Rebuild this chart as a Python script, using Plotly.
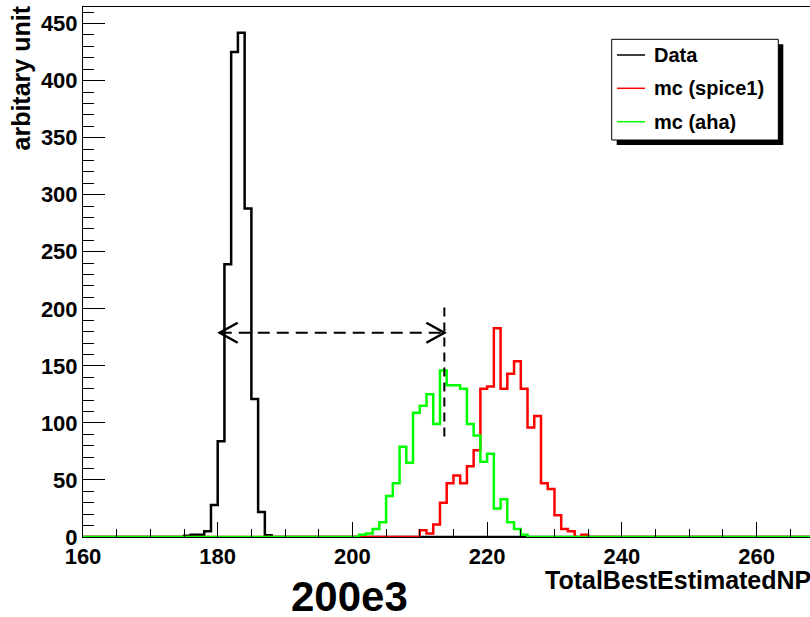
import plotly.graph_objects as go

# ---------------- data (bin width = 1, counts) ----------------
HIST_MIN = 160
HIST_MAX = 270

data_first_bin = 175
data_counts = [1, 2, 2, 5, 28, 84, 239, 425, 442, 288, 121, 22, 1.5]

spice1_first_bin = 210
spice1_counts = [6, 3, 11, 30, 47, 54, 47, 62, 76, 130, 132, 183, 130, 143,
                 154, 130, 96, 106, 47, 42, 19, 7, 5, 0, 2]

aha_first_bin = 201
aha_counts = [2, 3, 7, 13, 36, 47, 79, 65, 109, 115, 125, 99, 146, 133, 133,
              130, 99, 89, 66, 73, 25, 33, 13, 7, 2]

series_names = ["Data", "mc (spice1)", "mc (aha)"]
series_colors = ["#000000", "#ff0000", "#00ff00"]

x_ticks = [160, 180, 200, 220, 240, 260]
y_ticks = [0, 50, 100, 150, 200, 250, 300, 350, 400, 450]
X_RANGE = [160, 267.94]
Y_RANGE = [0, 464.5]

# arrow annotation (data coordinates)
ARROW_Y = 179
ARROW_X_LEFT = 180.3
ARROW_X_RIGHT = 213.65
VLINE_Y0 = 88
VLINE_Y1 = 205

# ---------------- layout geometry ----------------
FIG_W, FIG_H = 810, 617
M_L, M_R, M_T, M_B = 83, 0, 7, 80
PLOT_W = FIG_W - M_L - M_R
PLOT_H = FIG_H - M_T - M_B
PLOT_BOTTOM = FIG_H - M_B

def pxx(px):
    return (px - M_L) / PLOT_W

def pxy(py):
    return (PLOT_BOTTOM - py) / PLOT_H

FONT = "Liberation Sans, Arial, Helvetica, sans-serif"


def full_hist(first_bin, counts):
    nb = HIST_MAX - HIST_MIN
    vals = [0.0] * nb
    for i, c in enumerate(counts):
        vals[first_bin - HIST_MIN + i] = c
    edges = list(range(HIST_MIN, HIST_MAX + 1))
    return edges, vals + [vals[-1]]


fig = go.Figure()
for (fb, cnt), name, col in zip(
        [(data_first_bin, data_counts), (spice1_first_bin, spice1_counts),
         (aha_first_bin, aha_counts)], series_names, series_colors):
    xs, ys = full_hist(fb, cnt)
    fig.add_trace(go.Scatter(x=xs, y=ys, mode="lines", name=name,
                             line=dict(color=col, width=2.5, shape="hv"),
                             showlegend=False, hoverinfo="skip"))

shapes = []
# dashed horizontal line with open arrow heads
shapes.append(dict(type="line", xref="x", yref="y", x0=ARROW_X_LEFT, x1=ARROW_X_RIGHT,
                   y0=ARROW_Y, y1=ARROW_Y,
                   line=dict(color="black", width=2.2, dash="12px,7px")))
shapes.append(dict(type="line", xref="x", yref="y", x0=ARROW_X_RIGHT, x1=ARROW_X_RIGHT,
                   y0=VLINE_Y0, y1=VLINE_Y1,
                   line=dict(color="black", width=2, dash="9px,6px")))
shapes.append(dict(type="path", xref="x", yref="y", xsizemode="pixel", ysizemode="pixel",
                   xanchor=ARROW_X_LEFT, yanchor=ARROW_Y,
                   path="M 18,10 L 0,0 L 18,-10",
                   line=dict(color="black", width=2.5)))
shapes.append(dict(type="path", xref="x", yref="y", xsizemode="pixel", ysizemode="pixel",
                   xanchor=ARROW_X_RIGHT, yanchor=ARROW_Y,
                   path="M -18,10 L 0,0 L -18,-10",
                   line=dict(color="black", width=2.5)))

# legend box with shadow
LEG_L, LEG_T, LEG_R, LEG_B = 611.7, 39.3, 778.3, 140
SH = 5
shapes.append(dict(type="rect", xref="paper", yref="paper",
                   x0=pxx(LEG_L + SH), x1=pxx(LEG_R + SH), y0=pxy(LEG_B + SH), y1=pxy(LEG_T + SH),
                   fillcolor="black", line=dict(width=0)))
shapes.append(dict(type="rect", xref="paper", yref="paper",
                   x0=pxx(LEG_L), x1=pxx(LEG_R), y0=pxy(LEG_B), y1=pxy(LEG_T),
                   fillcolor="white", line=dict(color="black", width=1)))
annotations = []
entry_y = [55, 88.3, 121.7]
for name, col, ey in zip(series_names, series_colors, entry_y):
    shapes.append(dict(type="line", xref="paper", yref="paper",
                       x0=pxx(617), x1=pxx(645), y0=pxy(ey), y1=pxy(ey),
                       line=dict(color=col, width=1.5)))
    annotations.append(dict(xref="paper", yref="paper", x=pxx(652), y=pxy(ey),
                            xanchor="left", yanchor="middle", showarrow=False,
                            text=name, font=dict(family=FONT, size=20, color="black", weight="bold")))

# titles
annotations.append(dict(xref="paper", yref="paper", x=pxx(21), y=pxy(4),
                        xanchor="center", yanchor="top", textangle=-90, showarrow=False,
                        text="arbitary unit",
                        font=dict(family=FONT, size=25, color="black", weight="bold")))
annotations.append(dict(xref="paper", yref="paper", x=pxx(543), y=pxy(580),
                        xanchor="left", yanchor="middle", showarrow=False,
                        text="TotalBestEstimatedNPE",
                        font=dict(family=FONT, size=25, color="black", weight="bold")))
annotations.append(dict(xref="paper", yref="paper", x=pxx(349), y=pxy(596),
                        xanchor="center", yanchor="middle", showarrow=False,
                        text="200e3",
                        font=dict(family=FONT, size=42, color="black", weight="bold")))

fig.update_layout(
    width=FIG_W, height=FIG_H,
    margin=dict(l=M_L, r=M_R, t=M_T, b=M_B, pad=0),
    paper_bgcolor="white", plot_bgcolor="white",
    shapes=shapes, annotations=annotations,
    showlegend=False,
    xaxis=dict(range=X_RANGE, tickmode="array", tickvals=x_ticks,
               ticks="inside", ticklen=15, tickwidth=1, tickcolor="black",
               minor=dict(dtick=5, tick0=160, ticks="inside", ticklen=8, tickcolor="black", tickwidth=1),
               showline=True, linecolor="black", linewidth=1, mirror=True,
               showgrid=False, zeroline=False,
               tickfont=dict(family=FONT, size=22, color="black", weight="bold")),
    yaxis=dict(range=Y_RANGE, tickmode="array", tickvals=y_ticks,
               ticks="inside", ticklen=22, tickwidth=1, tickcolor="black",
               minor=dict(dtick=10, tick0=0, ticks="inside", ticklen=11, tickcolor="black", tickwidth=1),
               showline=True, linecolor="black", linewidth=1, mirror=False,
               showgrid=False, zeroline=False,
               tickfont=dict(family=FONT, size=22, color="black", weight="bold")),
)

fig.write_html("out.html", config={"displayModeBar": False},
               post_script="document.body.style.margin='0';document.body.style.overflow='hidden';")
